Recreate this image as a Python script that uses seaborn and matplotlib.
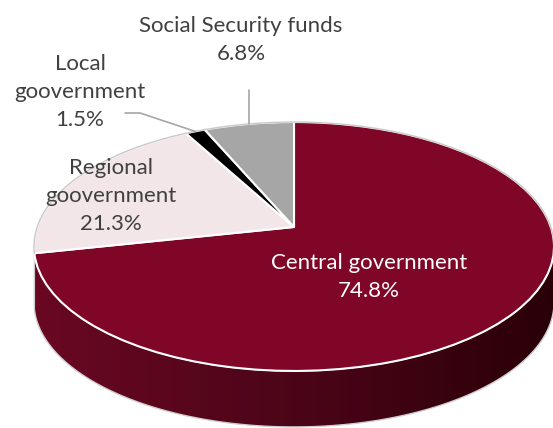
import numpy as np
import matplotlib
matplotlib.use("Agg")
import matplotlib.pyplot as plt
from matplotlib.colors import LinearSegmentedColormap
from matplotlib.patches import Polygon
from matplotlib.transforms import Transform
import seaborn as sns

# Government debt shares by level of government
categories = ["Central government", "Regional\ngoovernment", "Local\ngoovernment", "Social Security funds"]
shares = [74.8, 21.3, 1.5, 6.8]
slice_colors = ["#7f0627", "#f3e6e9", "#000000", "#a6a6a6"]
side_colors = ["#6a0823", "#4c0518", "#2a0008"]

sns.set_theme(style="white")
plt.rcParams["font.family"] = ["Lato", "DejaVu Sans"]

W, H = 553, 428
CX, CY = 294.0, 227.0      # pie centre on the canvas
AX, AY = 256.8, 121.4      # horizontal and vertical scale of the disc
TILT = 0.1566              # perspective strength
DEPTH = 56.0               # thickness of the disc


class Tilted(Transform):
    """Projects the flat unit pie onto a disc tilted away from the viewer."""
    input_dims = output_dims = 2
    is_separable = False
    has_inverse = False

    def transform_non_affine(self, values):
        v = np.asarray(values, dtype=float)
        w = 1 + TILT * v[:, 1]
        return np.column_stack([CX + AX * v[:, 0] / w, CY - AY * v[:, 1] / w])


tilted = Tilted()


def rim(deg):
    t = np.radians(np.atleast_1d(deg))
    return tilted.transform_non_affine(np.column_stack([np.cos(t), np.sin(t)]))


fig = plt.figure(figsize=(W / 100, H / 100), dpi=100, facecolor="white")
ax = fig.add_axes([0, 0, 1, 1])

wedges, _ = ax.pie(
    shares,
    colors=sns.color_palette(slice_colors),
    startangle=90,
    counterclock=False,
    wedgeprops=dict(edgecolor="white", linewidth=1.5, zorder=3),
)
for w in wedges:
    w.set_transform(tilted + ax.transData)
ax.set_aspect("auto")
ax.set_xlim(0, W)
ax.set_ylim(H, 0)
ax.axis("off")

# Front wall of the disc below the largest slice
theta = np.linspace(wedges[0].theta1, np.degrees(np.arcsin(-TILT)), 160)
upper = rim(theta)
lower = upper + np.array([0.0, DEPTH])
outline = np.vstack([upper, lower[::-1]])
wall = Polygon(outline, closed=True, facecolor="none", edgecolor="#cfcfcf", linewidth=1.0, zorder=2)
ax.add_patch(wall)
gradient = LinearSegmentedColormap.from_list("wall", side_colors)
img = ax.imshow(
    np.linspace(0, 1, 256)[None, :],
    cmap=gradient,
    extent=(outline[:, 0].min(), outline[:, 0].max(), outline[:, 1].max(), outline[:, 1].min()),
    aspect="auto",
    zorder=1,
)
img.set_clip_path(wall)
ax.set_xlim(0, W)
ax.set_ylim(H, 0)

# Thin grey edge around the back of the disc
back = rim(np.linspace(np.degrees(np.arcsin(-TILT)), wedges[0].theta1 + 360, 200))
ax.plot(back[:, 0], back[:, 1], color="#c8c8c8", lw=1.0, zorder=4)

# Leader lines to the two narrow slices
leader = "#a6a6a6"
mid_local = rim((wedges[2].theta1 + wedges[2].theta2) / 2)[0]
mid_social = rim((wedges[3].theta1 + wedges[3].theta2) / 2)[0]
ax.plot([125, 140, mid_local[0]], [113, 113, mid_local[1]], color=leader, lw=1.2, zorder=5)
ax.plot([mid_social[0], mid_social[0]], [90, mid_social[1]], color=leader, lw=1.2, zorder=5)

# Slice labels
text_kw = dict(ha="center", va="center", fontsize=16, linespacing=1.52, zorder=6)
ink = "#404040"
ax.text(369, 277, f"{categories[0]}\n{shares[0]}%", color="white", **text_kw)
ax.text(111, 196, f"{categories[1]}\n{shares[1]}%", color=ink, **text_kw)
ax.text(80, 92, f"{categories[2]}\n{shares[2]}%", color=ink, **text_kw)
ax.text(241, 40, f"{categories[3]}\n{shares[3]}%", color=ink, **text_kw)

fig.savefig("out.png", dpi=100, facecolor="white")
